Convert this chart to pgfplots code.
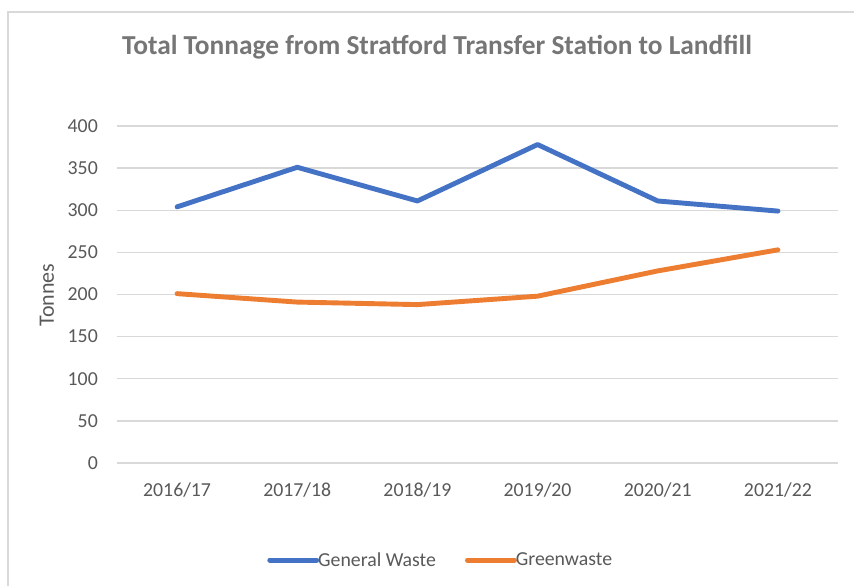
\documentclass[border=0pt]{standalone}
\usepackage{fontspec}
\setmainfont{Carlito}
\usepackage{pgfplots}
\pgfplotsset{compat=1.18}
\definecolor{txt}{HTML}{595959}
\definecolor{ttl}{HTML}{767676}
\definecolor{gridc}{HTML}{D9D9D9}
\definecolor{blu}{HTML}{4472C4}
\definecolor{org}{HTML}{ED7D31}
\begin{document}
\begin{tikzpicture}
\path[use as bounding box, fill=white] (0,0) rectangle (854bp,586bp);
\draw[gridc, line width=1.5bp] (8bp,0) -- (8bp,574bp) -- (854bp,574bp);
\begin{axis}[
    at={(117bp,123bp)}, anchor=south west,
    scale only axis, width=721bp, height=337bp,
    xmin=-0.5, xmax=5.5, ymin=0, ymax=400,
    xtick={0,...,5},
    xticklabels={2016/17,2017/18,2018/19,2019/20,2020/21,2021/22},
    ytick={0,50,...,400},
    ymajorgrids,
    grid style={gridc, line width=1.3bp},
    axis line style={draw=none},
    major tick length=0pt,
    tick label style={font=\fontsize{19.8bp}{24bp}\selectfont, text=txt},
    /pgf/number format/assume math mode=true,
    yticklabel style={anchor=east, inner sep=0pt, xshift=-19bp},
    xticklabel style={anchor=center, inner sep=0pt, yshift=-27bp},
    clip=false,
    legend columns=2,
    legend style={at={(0.449,-0.288)}, anchor=center, draw=none, fill=none,
                  font=\fontsize{19.8bp}{24bp}\selectfont, text=txt,
                  inner sep=0pt, /tikz/every even column/.append style={column sep=27bp}},
    legend cell align=left,
    legend image code/.code={\draw[#1, line cap=round] (0bp,0bp) -- (47bp,0bp);},
]
\addplot[blu, line width=4.9bp, line join=round, line cap=round]
    coordinates {(0,304)(1,351)(2,311)(3,378)(4,311)(5,299)};
\addplot[org, line width=4.9bp, line join=round, line cap=round]
    coordinates {(0,201)(1,191)(2,188)(3,198)(4,228)(5,253)};
\legend{\hspace{-3bp}General Waste, \hspace{-3bp}Greenwaste}
\end{axis}
\node[text=ttl, font=\bfseries\fontsize{27.4bp}{31bp}\selectfont] at (437bp,539bp)
    {Total Tonnage from Stratford Transfer Station to Landfill};
\node[text=txt, rotate=90, font=\fontsize{22bp}{26bp}\selectfont] at (47bp,291bp) {Tonnes};
\end{tikzpicture}
\end{document}
